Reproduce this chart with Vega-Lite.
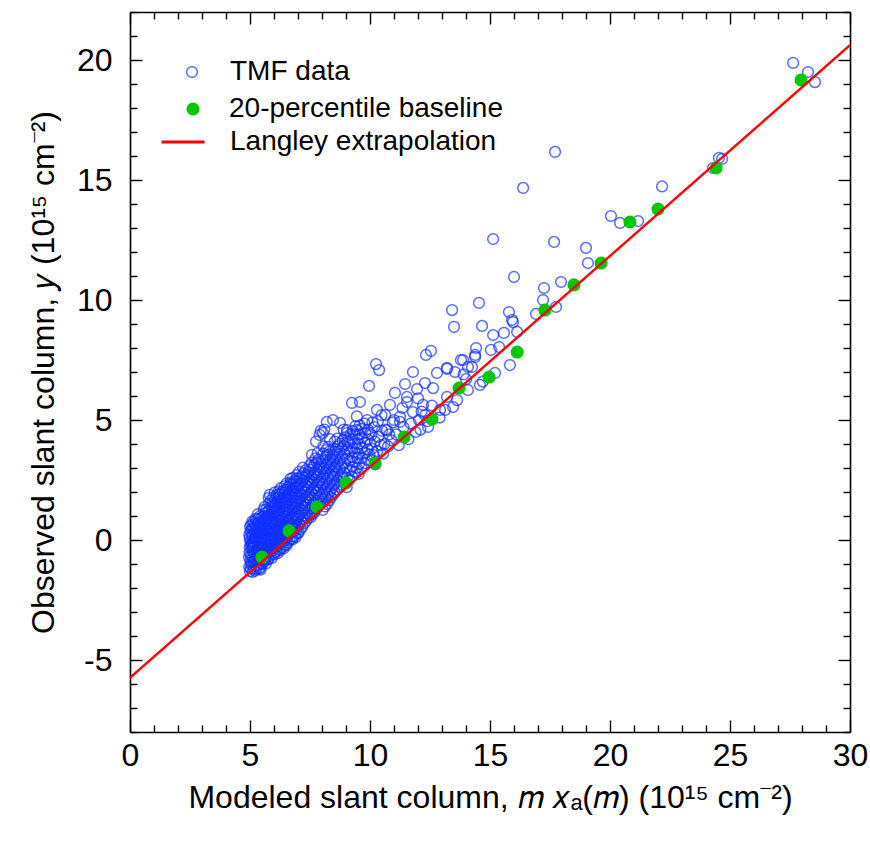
{
  "$schema": "https://vega.github.io/schema/vega-lite/v6.json",
  "width": 720,
  "height": 720,
  "autosize": "none",
  "padding": {"left": 130, "top": 12, "right": 20, "bottom": 116},
  "background": "white",
  "config": {
    "view": {"stroke": null},
    "font": "Liberation Sans",
    "axis": {"grid": false, "domainColor": "black", "domainWidth": 1.6, "tickColor": "black", "tickWidth": 1.4, "labelColor": "black", "titleColor": "black", "labelFont": "Liberation Sans", "titleFont": "Liberation Sans", "titleFontWeight": "normal", "labelOverlap": false, "labelFlush": false},
    "legend": {"title": null, "orient": "none", "padding": 0, "labelFont": "Liberation Sans", "labelFontSize": 28, "labelColor": "black", "labelLimit": 0, "symbolOpacity": 1}
  },
  "datasets": {
    "tmf": [
      {"x":4.97,"y":-1.12},{"x":5.01,"y":-0.85},{"x":4.98,"y":-0.52},{"x":5.03,"y":-0.21},{"x":4.99,"y":0.08},{"x":5.02,"y":0.35},{"x":5.05,"y":0.62},{"x":5.0,"y":-1.3},{"x":5.06,"y":-1.02},{"x":5.09,"y":-0.68},{"x":5.07,"y":-0.37},{"x":5.11,"y":-0.05},{"x":5.08,"y":0.22},{"x":5.12,"y":0.51},{"x":5.1,"y":0.78},{"x":5.15,"y":-1.21},{"x":5.14,"y":-0.91},{"x":5.17,"y":-0.59},{"x":5.16,"y":-0.28},{"x":5.19,"y":0.03},{"x":5.18,"y":0.31},{"x":5.21,"y":0.66},{"x":5.23,"y":0.88},{"x":5.24,"y":-1.08},{"x":5.22,"y":-0.77},{"x":5.25,"y":-0.45},{"x":5.2,"y":-0.12},{"x":5.23,"y":0.15},{"x":5.25,"y":0.44},{"x":4.96,"y":-0.71},{"x":5.04,"y":-0.63},{"x":5.13,"y":-0.49},{"x":5.01,"y":-0.04},{"x":5.09,"y":0.11},{"x":5.17,"y":0.47},{"x":5.05,"y":-0.93},{"x":5.11,"y":-1.33},{"x":5.2,"y":-1.28},{"x":4.97,"y":0.21},{"x":5.06,"y":0.45},{"x":5.14,"y":0.72},{"x":5.0,"y":0.55},{"x":5.1,"y":-0.26},{"x":5.18,"y":-0.88},{"x":5.03,"y":-1.18},{"x":5.22,"y":0.05},{"x":5.08,"y":-0.15},{"x":5.16,"y":-0.05},{"x":4.99,"y":-0.31},
      {"x":5.27,"y":-1.19},{"x":5.29,"y":-0.87},{"x":5.26,"y":-0.58},{"x":5.3,"y":-0.29},{"x":5.28,"y":0.02},{"x":5.31,"y":0.3},{"x":5.27,"y":0.59},{"x":5.3,"y":0.86},{"x":5.33,"y":1.07},{"x":5.34,"y":-1.05},{"x":5.36,"y":-0.74},{"x":5.35,"y":-0.41},{"x":5.37,"y":-0.11},{"x":5.34,"y":0.18},{"x":5.38,"y":0.45},{"x":5.36,"y":0.74},{"x":5.4,"y":0.98},{"x":5.41,"y":-1.16},{"x":5.42,"y":-0.86},{"x":5.44,"y":-0.55},{"x":5.4,"y":-0.24},{"x":5.43,"y":0.07},{"x":5.45,"y":0.36},{"x":5.42,"y":0.63},{"x":5.46,"y":0.91},{"x":5.48,"y":-0.97},{"x":5.47,"y":-0.66},{"x":5.49,"y":-0.35},{"x":5.5,"y":-0.02},{"x":5.48,"y":0.27},{"x":5.47,"y":0.55},{"x":5.49,"y":0.8},{"x":5.32,"y":-0.46},{"x":5.39,"y":-0.62},{"x":5.45,"y":0.12},{"x":5.29,"y":0.41},{"x":5.38,"y":-1.21},{"x":5.44,"y":-1.24},{"x":5.33,"y":0.7},{"x":5.41,"y":0.52},
      {"x":5.52,"y":-1.01},{"x":5.54,"y":-0.72},{"x":5.51,"y":-0.43},{"x":5.55,"y":-0.15},{"x":5.53,"y":0.14},{"x":5.56,"y":0.42},{"x":5.52,"y":0.71},{"x":5.55,"y":0.98},{"x":5.57,"y":1.26},{"x":5.59,"y":-0.88},{"x":5.61,"y":-0.57},{"x":5.58,"y":-0.28},{"x":5.62,"y":0.01},{"x":5.6,"y":0.29},{"x":5.63,"y":0.57},{"x":5.61,"y":0.85},{"x":5.64,"y":1.12},{"x":5.62,"y":1.38},{"x":5.66,"y":-0.99},{"x":5.68,"y":-0.69},{"x":5.67,"y":-0.41},{"x":5.69,"y":-0.1},{"x":5.66,"y":0.19},{"x":5.7,"y":0.47},{"x":5.68,"y":0.76},{"x":5.71,"y":1.02},{"x":5.69,"y":1.29},{"x":5.73,"y":-0.82},{"x":5.74,"y":-0.51},{"x":5.72,"y":-0.22},{"x":5.75,"y":0.08},{"x":5.73,"y":0.36},{"x":5.74,"y":0.66},{"x":5.72,"y":0.93},{"x":5.75,"y":1.18},{"x":5.57,"y":-0.6},{"x":5.65,"y":0.05},{"x":5.71,"y":-0.33},{"x":5.54,"y":0.55},{"x":5.63,"y":-0.8},
      {"x":5.77,"y":-0.79},{"x":5.79,"y":-0.49},{"x":5.76,"y":-0.2},{"x":5.8,"y":0.1},{"x":5.78,"y":0.39},{"x":5.81,"y":0.68},{"x":5.77,"y":0.97},{"x":5.8,"y":1.25},{"x":5.79,"y":1.52},{"x":5.78,"y":1.76},{"x":5.83,"y":-0.66},{"x":5.85,"y":-0.36},{"x":5.84,"y":-0.06},{"x":5.86,"y":0.23},{"x":5.83,"y":0.52},{"x":5.87,"y":0.81},{"x":5.85,"y":1.08},{"x":5.88,"y":1.37},{"x":5.86,"y":1.64},{"x":5.9,"y":-0.76},{"x":5.92,"y":-0.45},{"x":5.91,"y":-0.15},{"x":5.93,"y":0.15},{"x":5.9,"y":0.45},{"x":5.94,"y":0.73},{"x":5.92,"y":1.01},{"x":5.95,"y":1.29},{"x":5.93,"y":1.55},{"x":5.97,"y":-0.58},{"x":5.99,"y":-0.27},{"x":5.98,"y":0.04},{"x":6.0,"y":0.33},{"x":5.97,"y":0.62},{"x":5.99,"y":0.9},{"x":5.98,"y":1.18},{"x":6.0,"y":1.44},{"x":5.82,"y":1.88},{"x":5.96,"y":1.78},{"x":5.88,"y":0.05},{"x":5.81,"y":-0.02},
      {"x":6.02,"y":-0.6},{"x":6.04,"y":-0.3},{"x":6.01,"y":0.0},{"x":6.05,"y":0.3},{"x":6.03,"y":0.59},{"x":6.06,"y":0.88},{"x":6.02,"y":1.17},{"x":6.05,"y":1.45},{"x":6.04,"y":1.72},{"x":6.03,"y":1.98},{"x":6.08,"y":-0.48},{"x":6.1,"y":-0.17},{"x":6.09,"y":0.13},{"x":6.11,"y":0.43},{"x":6.08,"y":0.72},{"x":6.12,"y":1.01},{"x":6.1,"y":1.3},{"x":6.13,"y":1.58},{"x":6.11,"y":1.86},{"x":6.15,"y":-0.55},{"x":6.17,"y":-0.25},{"x":6.16,"y":0.05},{"x":6.18,"y":0.36},{"x":6.15,"y":0.65},{"x":6.19,"y":0.94},{"x":6.17,"y":1.22},{"x":6.2,"y":1.5},{"x":6.18,"y":1.77},{"x":6.19,"y":2.03},{"x":6.22,"y":-0.38},{"x":6.24,"y":-0.08},{"x":6.23,"y":0.22},{"x":6.25,"y":0.52},{"x":6.22,"y":0.81},{"x":6.24,"y":1.1},{"x":6.23,"y":1.38},{"x":6.25,"y":1.65},{"x":6.21,"y":1.92},
      {"x":6.27,"y":-0.42},{"x":6.29,"y":-0.12},{"x":6.26,"y":0.18},{"x":6.3,"y":0.48},{"x":6.28,"y":0.77},{"x":6.31,"y":1.06},{"x":6.27,"y":1.35},{"x":6.3,"y":1.63},{"x":6.29,"y":1.9},{"x":6.28,"y":2.16},{"x":6.33,"y":-0.3},{"x":6.35,"y":0.01},{"x":6.34,"y":0.31},{"x":6.36,"y":0.61},{"x":6.33,"y":0.9},{"x":6.37,"y":1.19},{"x":6.35,"y":1.47},{"x":6.38,"y":1.75},{"x":6.36,"y":2.02},{"x":6.4,"y":-0.35},{"x":6.42,"y":-0.05},{"x":6.41,"y":0.26},{"x":6.43,"y":0.56},{"x":6.4,"y":0.85},{"x":6.44,"y":1.14},{"x":6.42,"y":1.42},{"x":6.45,"y":1.7},{"x":6.43,"y":1.97},{"x":6.44,"y":2.24},{"x":6.47,"y":-0.2},{"x":6.49,"y":0.1},{"x":6.48,"y":0.4},{"x":6.5,"y":0.7},{"x":6.47,"y":0.99},{"x":6.49,"y":1.28},{"x":6.48,"y":1.56},{"x":6.5,"y":1.83},{"x":6.46,"y":2.1},
      {"x":6.52,"y":-0.22},{"x":6.54,"y":0.08},{"x":6.51,"y":0.38},{"x":6.55,"y":0.68},{"x":6.53,"y":0.97},{"x":6.56,"y":1.26},{"x":6.52,"y":1.54},{"x":6.55,"y":1.82},{"x":6.54,"y":2.09},{"x":6.53,"y":2.36},{"x":6.58,"y":-0.1},{"x":6.6,"y":0.21},{"x":6.59,"y":0.51},{"x":6.61,"y":0.81},{"x":6.58,"y":1.1},{"x":6.62,"y":1.39},{"x":6.6,"y":1.67},{"x":6.63,"y":1.95},{"x":6.61,"y":2.22},{"x":6.65,"y":0.0},{"x":6.67,"y":0.32},{"x":6.66,"y":0.62},{"x":6.68,"y":0.92},{"x":6.65,"y":1.21},{"x":6.69,"y":1.5},{"x":6.67,"y":1.78},{"x":6.7,"y":2.05},{"x":6.68,"y":2.32},{"x":6.69,"y":2.56},{"x":6.72,"y":0.05},{"x":6.74,"y":0.36},{"x":6.73,"y":0.66},{"x":6.75,"y":0.96},{"x":6.72,"y":1.26},{"x":6.74,"y":1.55},{"x":6.73,"y":1.83},{"x":6.75,"y":2.1},{"x":6.71,"y":2.4},
      {"x":6.77,"y":0.02},{"x":6.79,"y":0.33},{"x":6.76,"y":0.63},{"x":6.8,"y":0.93},{"x":6.78,"y":1.22},{"x":6.81,"y":1.51},{"x":6.77,"y":1.79},{"x":6.8,"y":2.06},{"x":6.79,"y":2.33},{"x":6.78,"y":2.58},{"x":6.83,"y":0.16},{"x":6.85,"y":0.46},{"x":6.84,"y":0.76},{"x":6.86,"y":1.06},{"x":6.83,"y":1.35},{"x":6.87,"y":1.64},{"x":6.85,"y":1.92},{"x":6.88,"y":2.19},{"x":6.86,"y":2.46},{"x":6.9,"y":0.12},{"x":6.92,"y":0.42},{"x":6.91,"y":0.72},{"x":6.93,"y":1.02},{"x":6.9,"y":1.32},{"x":6.94,"y":1.61},{"x":6.92,"y":1.89},{"x":6.95,"y":2.17},{"x":6.93,"y":2.44},{"x":6.94,"y":2.7},{"x":6.97,"y":0.27},{"x":6.99,"y":0.57},{"x":6.98,"y":0.87},{"x":7.0,"y":1.17},{"x":6.97,"y":1.46},{"x":6.99,"y":1.75},{"x":6.98,"y":2.03},{"x":7.0,"y":2.3},{"x":6.96,"y":2.58},
      {"x":7.03,"y":0.32},{"x":7.05,"y":0.65},{"x":7.02,"y":0.98},{"x":7.06,"y":1.3},{"x":7.04,"y":1.62},{"x":7.07,"y":1.93},{"x":7.03,"y":2.24},{"x":7.06,"y":2.55},{"x":7.05,"y":2.84},{"x":7.1,"y":0.45},{"x":7.12,"y":0.78},{"x":7.11,"y":1.11},{"x":7.13,"y":1.43},{"x":7.1,"y":1.75},{"x":7.14,"y":2.06},{"x":7.12,"y":2.36},{"x":7.15,"y":2.66},{"x":7.18,"y":0.55},{"x":7.2,"y":0.88},{"x":7.19,"y":1.21},{"x":7.21,"y":1.53},{"x":7.18,"y":1.85},{"x":7.22,"y":2.16},{"x":7.2,"y":2.47},{"x":7.23,"y":2.77},{"x":7.21,"y":3.02},{"x":7.26,"y":0.7},{"x":7.28,"y":1.03},{"x":7.27,"y":1.36},{"x":7.29,"y":1.68},{"x":7.26,"y":2.0},{"x":7.3,"y":2.31},{"x":7.28,"y":2.61},{"x":7.31,"y":2.9},{"x":7.34,"y":0.8},{"x":7.36,"y":1.13},{"x":7.35,"y":1.46},{"x":7.37,"y":1.78},{"x":7.34,"y":2.1},{"x":7.38,"y":2.41},{"x":7.36,"y":2.71},{"x":7.42,"y":0.92},{"x":7.44,"y":1.25},{"x":7.43,"y":1.58},{"x":7.45,"y":1.9},{"x":7.42,"y":2.22},{"x":7.46,"y":2.53},{"x":7.44,"y":2.83},{"x":7.48,"y":3.08},{"x":7.49,"y":1.05},{"x":7.5,"y":1.72},{"x":7.47,"y":2.38},
      {"x":7.53,"y":0.95},{"x":7.55,"y":1.3},{"x":7.52,"y":1.64},{"x":7.56,"y":1.97},{"x":7.54,"y":2.3},{"x":7.57,"y":2.62},{"x":7.53,"y":2.93},{"x":7.56,"y":3.22},{"x":7.6,"y":1.08},{"x":7.62,"y":1.42},{"x":7.61,"y":1.76},{"x":7.63,"y":2.09},{"x":7.6,"y":2.42},{"x":7.64,"y":2.74},{"x":7.62,"y":3.05},{"x":7.68,"y":1.15},{"x":7.7,"y":1.5},{"x":7.69,"y":1.84},{"x":7.71,"y":2.17},{"x":7.68,"y":2.5},{"x":7.72,"y":2.82},{"x":7.7,"y":3.13},{"x":7.73,"y":3.4},{"x":7.76,"y":1.28},{"x":7.78,"y":1.62},{"x":7.77,"y":1.96},{"x":7.79,"y":2.29},{"x":7.76,"y":2.61},{"x":7.8,"y":2.93},{"x":7.78,"y":3.24},{"x":7.84,"y":1.4},{"x":7.86,"y":1.74},{"x":7.85,"y":2.08},{"x":7.87,"y":2.41},{"x":7.84,"y":2.73},{"x":7.88,"y":3.05},{"x":7.86,"y":3.35},{"x":7.92,"y":1.5},{"x":7.94,"y":1.85},{"x":7.93,"y":2.2},{"x":7.95,"y":2.52},{"x":7.92,"y":2.84},{"x":7.96,"y":3.15},{"x":7.99,"y":1.7},{"x":8.0,"y":2.35},{"x":7.98,"y":3.0},{"x":7.58,"y":3.55},{"x":7.82,"y":3.62},{"x":7.9,"y":4.38},{"x":7.95,"y":4.55},{"x":7.75,"y":4.1},
      {"x":8.03,"y":1.25},{"x":8.05,"y":1.6},{"x":8.02,"y":1.95},{"x":8.06,"y":2.3},{"x":8.04,"y":2.64},{"x":8.07,"y":2.97},{"x":8.03,"y":3.3},{"x":8.06,"y":3.6},{"x":8.05,"y":3.9},{"x":8.12,"y":1.4},{"x":8.14,"y":1.76},{"x":8.13,"y":2.12},{"x":8.15,"y":2.46},{"x":8.12,"y":2.8},{"x":8.16,"y":3.12},{"x":8.14,"y":3.44},{"x":8.17,"y":3.75},{"x":8.21,"y":1.5},{"x":8.23,"y":1.87},{"x":8.22,"y":2.22},{"x":8.24,"y":2.56},{"x":8.21,"y":2.9},{"x":8.25,"y":3.22},{"x":8.23,"y":3.55},{"x":8.26,"y":3.88},{"x":8.3,"y":1.65},{"x":8.32,"y":2.0},{"x":8.31,"y":2.36},{"x":8.33,"y":2.7},{"x":8.3,"y":3.04},{"x":8.34,"y":3.36},{"x":8.32,"y":3.7},{"x":8.38,"y":1.78},{"x":8.4,"y":2.14},{"x":8.39,"y":2.5},{"x":8.41,"y":2.85},{"x":8.38,"y":3.18},{"x":8.42,"y":3.52},{"x":8.46,"y":1.9},{"x":8.48,"y":2.28},{"x":8.47,"y":2.64},{"x":8.49,"y":3.0},{"x":8.46,"y":3.34},{"x":8.5,"y":3.68},{"x":8.2,"y":4.92},{"x":8.46,"y":5.0},{"x":8.75,"y":4.88},{"x":8.04,"y":4.46},{"x":8.33,"y":4.2},{"x":8.1,"y":4.6},
      {"x":8.53,"y":1.98},{"x":8.55,"y":2.35},{"x":8.52,"y":2.72},{"x":8.56,"y":3.08},{"x":8.54,"y":3.43},{"x":8.57,"y":3.78},{"x":8.53,"y":4.1},{"x":8.62,"y":2.1},{"x":8.64,"y":2.47},{"x":8.63,"y":2.84},{"x":8.65,"y":3.2},{"x":8.62,"y":3.55},{"x":8.66,"y":3.9},{"x":8.64,"y":4.22},{"x":8.72,"y":2.22},{"x":8.74,"y":2.6},{"x":8.73,"y":2.97},{"x":8.75,"y":3.33},{"x":8.72,"y":3.68},{"x":8.76,"y":4.02},{"x":8.82,"y":2.3},{"x":8.84,"y":2.7},{"x":8.83,"y":3.08},{"x":8.85,"y":3.45},{"x":8.82,"y":3.8},{"x":8.86,"y":4.15},{"x":8.92,"y":2.4},{"x":8.94,"y":2.8},{"x":8.93,"y":3.2},{"x":8.95,"y":3.57},{"x":8.92,"y":3.93},{"x":8.96,"y":4.28},{"x":9.04,"y":4.58},{"x":8.9,"y":4.6},
      {"x":9.03,"y":2.2},{"x":9.05,"y":2.6},{"x":9.02,"y":3.0},{"x":9.06,"y":3.38},{"x":9.04,"y":3.75},{"x":9.07,"y":4.1},{"x":9.03,"y":4.45},{"x":9.14,"y":2.5},{"x":9.16,"y":2.9},{"x":9.15,"y":3.3},{"x":9.17,"y":3.68},{"x":9.14,"y":4.05},{"x":9.18,"y":4.4},{"x":9.25,"y":2.65},{"x":9.27,"y":3.05},{"x":9.26,"y":3.45},{"x":9.28,"y":3.83},{"x":9.25,"y":4.2},{"x":9.29,"y":4.55},{"x":9.25,"y":5.71},{"x":9.36,"y":2.85},{"x":9.38,"y":3.25},{"x":9.37,"y":3.65},{"x":9.39,"y":4.03},{"x":9.36,"y":4.4},{"x":9.4,"y":4.75},{"x":9.46,"y":3.0},{"x":9.48,"y":3.42},{"x":9.47,"y":3.82},{"x":9.49,"y":4.2},{"x":9.46,"y":4.58},{"x":9.45,"y":5.15},
      {"x":9.53,"y":2.75},{"x":9.55,"y":3.18},{"x":9.52,"y":3.6},{"x":9.56,"y":4.0},{"x":9.54,"y":4.4},{"x":9.57,"y":4.78},{"x":9.58,"y":5.75},{"x":9.65,"y":3.0},{"x":9.67,"y":3.42},{"x":9.66,"y":3.84},{"x":9.68,"y":4.25},{"x":9.65,"y":4.63},{"x":9.77,"y":3.2},{"x":9.79,"y":3.63},{"x":9.78,"y":4.05},{"x":9.8,"y":4.46},{"x":9.77,"y":4.85},{"x":9.88,"y":3.35},{"x":9.9,"y":3.78},{"x":9.89,"y":4.2},{"x":9.91,"y":4.6},{"x":9.88,"y":5.0},{"x":9.96,"y":6.42},{"x":9.98,"y":3.55},{"x":10.0,"y":4.0},{"x":9.99,"y":4.45},
      {"x":10.05,"y":3.3},{"x":10.08,"y":3.8},{"x":10.06,"y":4.38},{"x":10.1,"y":4.9},{"x":10.15,"y":3.55},{"x":10.2,"y":4.1},{"x":10.18,"y":4.7},{"x":10.25,"y":7.33},{"x":10.38,"y":7.08},{"x":10.29,"y":5.42},{"x":10.3,"y":3.7},{"x":10.35,"y":4.3},{"x":10.33,"y":4.95},{"x":10.45,"y":3.95},{"x":10.5,"y":4.55},{"x":10.48,"y":5.2},{"x":10.63,"y":5.21},{"x":10.6,"y":4.0},{"x":10.65,"y":4.6},{"x":10.71,"y":4.58},{"x":10.75,"y":3.9},{"x":10.8,"y":4.4},{"x":10.83,"y":5.63},{"x":10.9,"y":4.15},{"x":10.95,"y":4.9},{"x":10.22,"y":3.15},{"x":10.55,"y":3.6},
      {"x":11.04,"y":6.13},{"x":11.46,"y":6.5},{"x":11.96,"y":6.29},{"x":12.29,"y":6.54},{"x":11.54,"y":5.96},{"x":11.54,"y":5.75},{"x":12.21,"y":5.63},{"x":11.79,"y":5.33},{"x":11.25,"y":5.13},{"x":11.25,"y":4.92},{"x":11.79,"y":7.0},{"x":12.04,"y":5.0},{"x":11.1,"y":4.4},{"x":11.2,"y":3.95},{"x":11.4,"y":4.7},{"x":11.6,"y":4.2},{"x":11.7,"y":4.85},{"x":11.9,"y":4.5},{"x":12.1,"y":4.6},{"x":12.3,"y":5.2},{"x":12.4,"y":4.95},{"x":12.15,"y":5.35},{"x":11.35,"y":5.5},{"x":11.0,"y":5.0},{"x":12.0,"y":5.9},
      {"x":12.63,"y":6.33},{"x":12.79,"y":6.96},{"x":13.21,"y":7.13},{"x":13.54,"y":7.0},{"x":13.88,"y":7.5},{"x":14.25,"y":7.21},{"x":14.38,"y":7.71},{"x":12.54,"y":7.88},{"x":12.33,"y":7.71},{"x":13.21,"y":5.96},{"x":13.46,"y":5.54},{"x":14.08,"y":6.25},{"x":12.92,"y":5.42},{"x":13.13,"y":5.42},{"x":13.63,"y":5.83},{"x":12.58,"y":5.6},{"x":14.58,"y":6.46},{"x":13.42,"y":9.58},{"x":13.5,"y":8.88},{"x":14.54,"y":9.88},{"x":14.67,"y":8.92},{"x":15.79,"y":9.5},{"x":15.92,"y":9.17},{"x":15.96,"y":9.08},{"x":15.13,"y":8.54},{"x":15.58,"y":8.63},{"x":16.13,"y":8.67},{"x":15.38,"y":8.04},{"x":15.04,"y":7.92},{"x":14.42,"y":8.0},{"x":14.38,"y":7.63},{"x":13.79,"y":7.5},{"x":15.83,"y":7.29},{"x":13.21,"y":7.17},{"x":14.08,"y":7.21},{"x":15.21,"y":6.96},{"x":14.7,"y":6.6},{"x":14.0,"y":6.7},{"x":13.9,"y":6.9},{"x":12.9,"y":5.1},{"x":12.42,"y":4.71},
      {"x":17.71,"y":16.17},{"x":16.38,"y":14.67},{"x":15.13,"y":12.54},{"x":17.67,"y":12.42},{"x":19.0,"y":12.17},{"x":19.08,"y":11.54},{"x":20.04,"y":13.5},{"x":20.42,"y":13.21},{"x":21.17,"y":13.29},{"x":22.17,"y":14.73},{"x":16.0,"y":10.96},{"x":17.96,"y":10.75},{"x":17.25,"y":10.5},{"x":17.21,"y":10.0},{"x":17.75,"y":9.71},{"x":16.92,"y":9.42},{"x":24.29,"y":15.5},{"x":24.67,"y":15.88},{"x":24.54,"y":15.92},{"x":27.63,"y":19.88},{"x":28.25,"y":19.5},{"x":28.54,"y":19.08}
    ],
    "base": [
      {"x":5.5,"y":-0.71},{"x":6.63,"y":0.38},{"x":7.79,"y":1.38},{"x":9.0,"y":2.38},{"x":10.21,"y":3.21},{"x":11.42,"y":4.29},{"x":12.58,"y":5.04},{"x":13.71,"y":6.33},{"x":14.96,"y":6.79},{"x":16.13,"y":7.83},{"x":17.29,"y":9.58},{"x":18.5,"y":10.63},{"x":19.63,"y":11.54},{"x":20.83,"y":13.25},{"x":22.0,"y":13.79},{"x":24.42,"y":15.5},{"x":27.96,"y":19.17}
    ],
    "lang": [
      {"x":0,"y":-5.74},{"x":30,"y":20.62}
    ]
  },
  "resolve": {"axis": {"x": "independent", "y": "independent"}},
  "layer": [
    {
      "data": {"name": "tmf"},
      "mark": {"type": "point", "filled": false, "size": 115, "strokeWidth": 1.5, "opacity": 0.7, "color": "#1030ff"},
      "encoding": {
        "x": {"field": "x", "type": "quantitative",
          "scale": {"domain": [0, 30], "nice": false, "zero": false},
          "axis": {"orient": "bottom", "values": [0,1,2,3,4,5,6,7,8,9,10,11,12,13,14,15,16,17,18,19,20,21,22,23,24,25,26,27,28,29,30],
            "tickSize": {"condition": {"test": "datum.value % 5 === 0", "value": -12}, "value": -7},
            "labelExpr": "datum.value % 5 === 0 ? toString(datum.value) : ''",
            "labelFontSize": 32, "labelPadding": 20,
            "title": "Modeled slant column, 𝑚 𝑥ₐ(𝑚) (10¹⁵ cm⁻²)", "titleFontSize": 32, "titlePadding": 6}},
        "y": {"field": "y", "type": "quantitative",
          "scale": {"domain": [-8, 22], "nice": false, "zero": false},
          "axis": {"orient": "left", "values": [-8,-7,-6,-5,-4,-3,-2,-1,0,1,2,3,4,5,6,7,8,9,10,11,12,13,14,15,16,17,18,19,20,21,22],
            "tickSize": {"condition": {"test": "datum.value % 5 === 0", "value": -12}, "value": -7},
            "labelExpr": "datum.value % 5 === 0 ? toString(datum.value) : ''",
            "labelFontSize": 32, "labelPadding": 30,
            "title": "Observed slant column, 𝑦 (10¹⁵ cm⁻²)", "titleFontSize": 32, "titlePadding": 16}},
        "shape": {"datum": "TMF data", "type": "nominal",
          "scale": {"domain": ["TMF data"], "range": ["circle"]},
          "legend": {"legendX": 48, "legendY": 46, "labelOffset": 24, "symbolSize": 115, "symbolStrokeWidth": 1.5, "symbolStrokeColor": "#5070ff", "symbolFillColor": "transparent"}}
      }
    },
    {
      "data": {"name": "base"},
      "mark": {"type": "circle", "size": 170, "opacity": 1},
      "encoding": {
        "x": {"field": "x", "type": "quantitative",
          "axis": {"orient": "top", "values": [0,1,2,3,4,5,6,7,8,9,10,11,12,13,14,15,16,17,18,19,20,21,22,23,24,25,26,27,28,29,30],
            "tickSize": {"condition": {"test": "datum.value % 5 === 0", "value": -12}, "value": -7},
            "labels": false, "title": null}},
        "y": {"field": "y", "type": "quantitative",
          "axis": {"orient": "right", "values": [-8,-7,-6,-5,-4,-3,-2,-1,0,1,2,3,4,5,6,7,8,9,10,11,12,13,14,15,16,17,18,19,20,21,22],
            "tickSize": {"condition": {"test": "datum.value % 5 === 0", "value": -12}, "value": -7},
            "labels": false, "title": null}},
        "color": {"datum": "20-percentile baseline", "type": "nominal",
          "scale": {"domain": ["20-percentile baseline"], "range": ["#00c800"]},
          "legend": {"legendX": 49, "legendY": 83, "labelOffset": 22, "symbolSize": 170, "symbolType": "circle", "symbolStrokeWidth": 0}}
      }
    },
    {
      "data": {"name": "lang"},
      "mark": {"type": "line", "strokeWidth": 2.4, "color": "#ff0000"},
      "encoding": {
        "x": {"field": "x", "type": "quantitative", "axis": null},
        "y": {"field": "y", "type": "quantitative", "axis": null},
        "strokeDash": {"datum": "Langley extrapolation", "type": "nominal",
          "scale": {"domain": ["Langley extrapolation"], "range": [[1, 0]]},
          "legend": {"legendX": 30, "legendY": 107, "labelOffset": 24, "symbolSize": 1849, "symbolType": "stroke", "symbolStrokeWidth": 3, "symbolStrokeColor": "#ff0000"}}
      }
    }
  ]
}
